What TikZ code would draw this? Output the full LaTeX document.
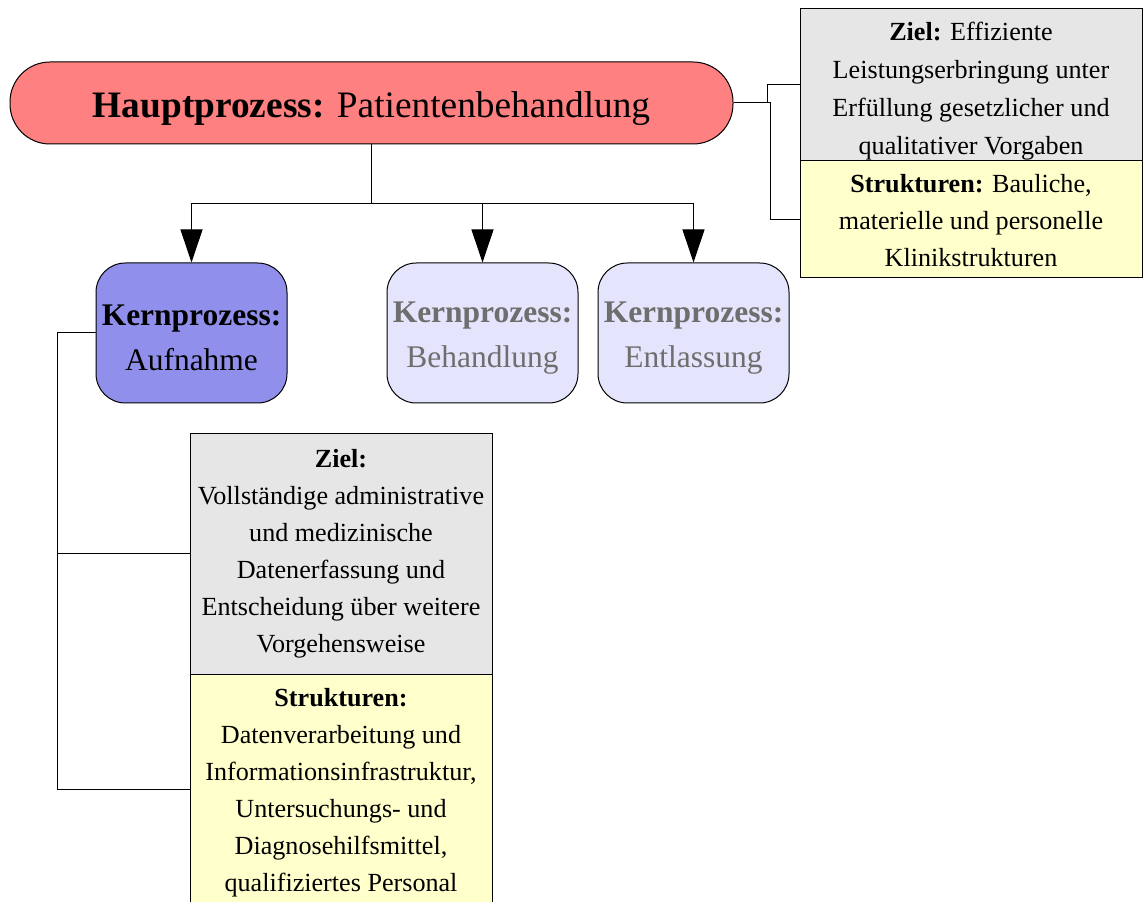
\documentclass[tikz,border=0pt]{standalone}
\usepackage{fontspec}
\setmainfont{Liberation Serif}
\usetikzlibrary{arrows.meta}
\definecolor{hauptfill}{RGB}{255,128,128}
\definecolor{kernfill}{RGB}{144,144,236}
\definecolor{kernpale}{RGB}{228,228,252}
\definecolor{kerntext}{RGB}{110,110,110}
\definecolor{zielfill}{RGB}{230,230,230}
\definecolor{strukfill}{RGB}{255,255,204}
\begin{document}
\begin{tikzpicture}[x=0.75pt,y=-0.75pt,
  line width=0.75pt,
  haupt/.style={draw=black, fill=hauptfill, rounded corners=30pt,
    minimum width=542.25pt, minimum height=61.5pt, inner sep=0pt},
  hauptlabel/.style={inner sep=0pt, font=\fontsize{28}{34}\selectfont},
  kern/.style={draw=black, rounded corners=22pt,
    minimum width=143.25pt, minimum height=105pt, inner sep=0pt},
  kernlabel/.style={inner sep=0pt, align=center,
    font=\fontsize{23.6}{33.75}\selectfont},
  infobox/.style={draw=black, inner sep=0pt},
  infolabel/.style={inner sep=0pt, align=center,
    font=\fontsize{19.6}{27.75}\selectfont},
  link/.style={draw=black},
  flow/.style={draw=black, -{Triangle[length=24.75pt,width=16.5pt]}}
]
\useasboundingbox (0,0) rectangle (1143,902);

% main process
\node[haupt] (main) at (371.5,103) {};
\node[hauptlabel] (maintext) at ([yshift=-4.5pt]main.center)
  {\textbf{Hauptprozess:} Patientenbehandlung};

% core processes
\node[kern, fill=kernfill] (k1) at (191.5,333) {};
\node[kern, fill=kernpale] (k2) at (482.5,333) {};
\node[kern, fill=kernpale] (k3) at (693.5,333) {};
\node[kernlabel] (k1text) at ([yshift=-3.75pt]k1.center) {\textbf{Kernprozess:}\\Aufnahme};
\node[kernlabel, text=kerntext] (k2text) at ([yshift=-3.75pt]k2.center) {\textbf{Kernprozess:}\\Behandlung};
\node[kernlabel, text=kerntext] (k3text) at ([yshift=-3.75pt]k3.center) {\textbf{Kernprozess:}\\Entlassung};

% goal and structure boxes of the main process
\node[infobox, fill=zielfill, minimum width=256.5pt, minimum height=114pt] (mz) at (971,85) {};
\node[infobox, fill=strukfill, minimum width=256.5pt, minimum height=87.75pt] (ms) at (971,219.5) {};
\node[infolabel, font=\fontsize{19.6}{28.5}\selectfont] (mztext) at ([yshift=-4.5pt]mz.center)
  {\textbf{Ziel:} Effiziente\\Leistungserbringung unter\\Erfüllung gesetzlicher und\\qualitativer Vorgaben};
\node[infolabel] (mstext) at ([yshift=-1pt]ms.center)
  {\textbf{Strukturen:} Bauliche,\\materielle und personelle\\Klinikstrukturen};

% goal and structure boxes of the admission
\node[infobox, fill=zielfill, minimum width=226.5pt, minimum height=180.75pt] (az) at (341,553.5) {};
\node[infobox, fill=strukfill, minimum width=226.5pt, minimum height=173.25pt] (as) at (341,789.5) {};
\node[infolabel] (aztext) at (az.center)
  {\textbf{Ziel:}\\Vollständige administrative\\und medizinische\\Datenerfassung und\\Entscheidung über weitere\\Vorgehensweise};
\node[infolabel] (astext) at ([yshift=-2.25pt]as.center)
  {\textbf{Strukturen:}\\Datenverarbeitung und\\Informationsinfrastruktur,\\Untersuchungs- und\\Diagnosehilfsmittel,\\qualifiziertes Personal};

% branching from the main process to the core processes
\coordinate (split) at (371.5,204);
\draw[link] (main.south) -- (split);
\draw[flow] (split) -| (k1.north);
\draw[flow] (split) -| (k2.north);
\draw[flow] (split) -| (k3.north);

% attachments of the main process
\draw[link] (main.east) -- ++(34,0) |- (mz.west);
\draw[link] (main.east) -- ++(37,0) |- (ms.west);

% attachments of the admission
\draw[link] (k1.west) -- ++(-38,0) |- (az.west);
\draw[link] (k1.west) -- ++(-38,0) |- (as.west);
\end{tikzpicture}
\end{document}
